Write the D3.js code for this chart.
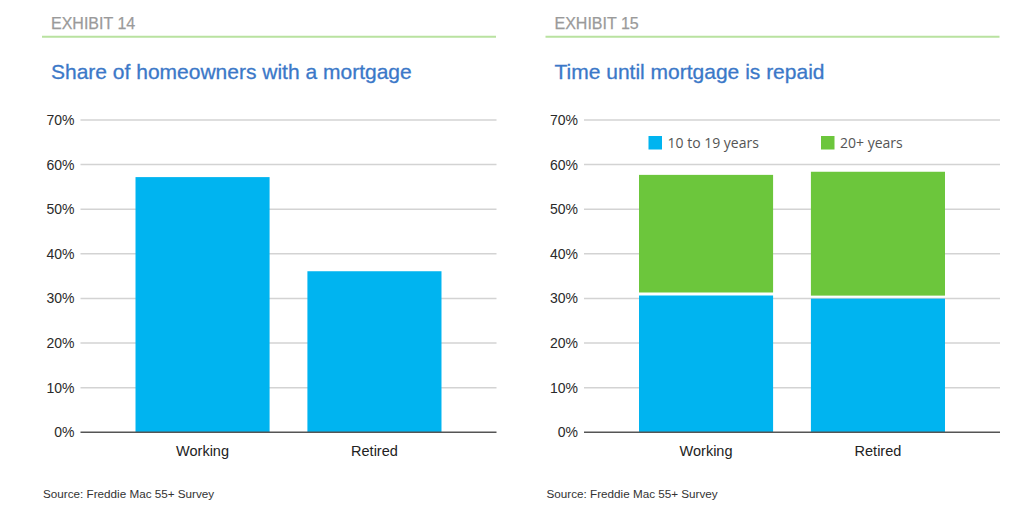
<!DOCTYPE html>
<html><head><meta charset="utf-8">
<script src="https://cdn.jsdelivr.net/npm/d3@7"></script>
<style>
body{margin:0;background:#fff;}
svg{display:block;}
</style></head>
<body>
<svg id="chart" width="1034" height="525"></svg>
<script>
const categories = ["Working", "Retired"];
const shareWithMortgage = [57.2, 36.1];
const repaid10to19 = [31.0, 30.3];
const repaid20plus = [26.7, 28.1];
const yTicks = [0, 10, 20, 30, 40, 50, 60, 70];
const exhibitLabels = ["EXHIBIT 14", "EXHIBIT 15"];
const titles = ["Share of homeowners with a mortgage", "Time until mortgage is repaid"];
const legendLabels = ["10 to 19 years", "20+ years"];
const sourceText = "Source: Freddie Mac 55+ Survey";

const BLUE = "#00b4f0", GREEN = "#6cc63c";
const FONT = "'Liberation Sans', Arial, Helvetica, sans-serif";
const svg = d3.select("#chart");

function panel(ox, idx) {
  const g = svg.append("g").attr("transform", `translate(${ox},0)`);
  g.append("text").attr("x", 9).attr("y", 28.5).text(exhibitLabels[idx])
    .attr("font-family", FONT).attr("font-size", 16).attr("fill", "#9a9a9a")
    .attr("stroke", "#9a9a9a").attr("stroke-width", 0.25);
  g.append("line").attr("x1", 0).attr("x2", 454).attr("y1", 36.7).attr("y2", 36.7)
    .attr("stroke", "#b9e2a0").attr("stroke-width", 2);
  g.append("text").attr("x", 9).attr("y", 78.5).text(titles[idx])
    .attr("font-family", FONT).attr("font-size", 21).attr("fill", "#3b78c8")
    .attr("stroke", "#3b78c8").attr("stroke-width", 0.3);
  g.append("text").attr("x", 1).attr("y", 498).text(sourceText)
    .attr("font-family", FONT).attr("font-size", 11.7).attr("fill", "#333");

  const x0 = 38.5, x1 = 454.5;
  const y = d3.scaleLinear().domain([0, 70]).range([432.3, 120]);
  const x = d3.scaleBand().domain(categories).range([x0, x1]).paddingInner(0.22).paddingOuter(0.32);

  g.append("g").selectAll("line").data(yTicks.filter(t => t > 0)).join("line")
    .attr("x1", x0).attr("x2", x1).attr("y1", d => y(d)).attr("y2", d => y(d))
    .attr("stroke", "#d3d3d3").attr("stroke-width", 1.5);

  const yAxis = d3.axisLeft(y).tickValues(yTicks).tickFormat(d => d + "%").tickSize(0).tickPadding(6);
  const ya = g.append("g").attr("transform", `translate(${x0},0)`).call(yAxis);
  ya.select(".domain").remove();
  ya.selectAll("text").attr("font-family", FONT).attr("font-size", 14).attr("fill", "#2a2a2a");

  return {g, x, y, x0, x1};
}

const L = panel(42, 0);
L.g.append("g").selectAll("rect").data(categories).join("rect")
  .attr("x", d => L.x(d)).attr("width", L.x.bandwidth())
  .attr("y", (d, i) => L.y(shareWithMortgage[i]))
  .attr("height", (d, i) => L.y(0) - L.y(shareWithMortgage[i]))
  .attr("fill", BLUE);

const R = panel(545.5, 1);
const gap = 1.5;
R.g.append("g").selectAll("rect").data(categories).join("rect")
  .attr("x", d => R.x(d)).attr("width", R.x.bandwidth())
  .attr("y", (d, i) => R.y(repaid10to19[i]) + gap)
  .attr("height", (d, i) => R.y(0) - R.y(repaid10to19[i]) - gap)
  .attr("fill", BLUE);
R.g.append("g").selectAll("rect").data(categories).join("rect")
  .attr("x", d => R.x(d)).attr("width", R.x.bandwidth())
  .attr("y", (d, i) => R.y(repaid10to19[i] + repaid20plus[i]))
  .attr("height", (d, i) => R.y(repaid10to19[i]) - R.y(repaid10to19[i] + repaid20plus[i]) - gap)
  .attr("fill", GREEN);

const legX = [103, 275.5];
const legColors = [BLUE, GREEN];
const leg = R.g.append("g").selectAll("g").data(legendLabels).join("g")
  .attr("transform", (d, i) => `translate(${legX[i]},136)`);
leg.append("rect").attr("width", 13.5).attr("height", 13.5).attr("fill", (d, i) => legColors[i]);
leg.append("text").attr("x", 19).attr("y", 12).text(d => d)
  .attr("font-family", "'Open Sans', sans-serif").attr("font-size", 14).attr("fill", "#555");

[L, R].forEach(P => {
  P.g.append("line").attr("x1", P.x0).attr("x2", P.x1).attr("y1", P.y(0)).attr("y2", P.y(0))
    .attr("stroke", "#555").attr("stroke-width", 1.5);
  P.g.append("g").selectAll("text").data(categories).join("text")
    .attr("x", d => P.x(d) + P.x.bandwidth() / 2).attr("y", 456)
    .attr("text-anchor", "middle").text(d => d)
    .attr("font-family", FONT).attr("font-size", 14.5).attr("fill", "#222");
});
</script>
</body></html>
